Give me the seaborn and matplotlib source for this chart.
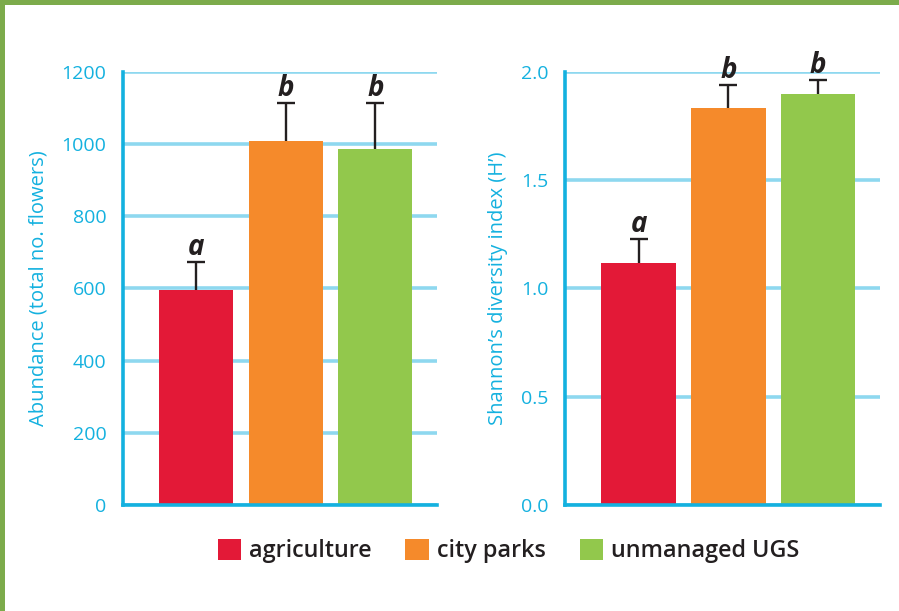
import matplotlib
matplotlib.use("Agg")
import matplotlib.pyplot as plt
from matplotlib.patches import Rectangle, Patch
import seaborn as sns
import pandas as pd

# Land-use categories and their bar colours
categories = ["agriculture", "city parks", "unmanaged UGS"]
colors = ["#e31937", "#f58a2b", "#92c84c"]

# Flower abundance (mean and upper error)
abundance = [596, 1008, 986]
abundance_err = [77, 105, 127]
abundance_letters = ["a", "b", "b"]

# Shannon diversity (mean and upper error)
shannon = [1.12, 1.834, 1.898]
shannon_err = [0.11, 0.106, 0.065]
shannon_letters = ["a", "b", "b"]

abund_ticks = [0, 200, 400, 600, 800, 1000, 1200]
shannon_ticks = [0.0, 0.5, 1.0, 1.5, 2.0]
shannon_ticklabels = ["0.0", "0.5", "1.0", "1.5", "2.0"]

AXIS_CYAN = "#14b1df"
GRID_CYAN = "#8ed8ef"
TEXT_DARK = "#231f20"
FRAME_GREEN = "#7cab4b"

sns.set_theme(style="white")
plt.rcParams["font.family"] = ["Open Sans", "DejaVu Sans"]

fig = plt.figure(figsize=(8.99, 6.11), dpi=100)
fig.patch.set_facecolor("white")

ax1 = fig.add_axes([0.1368, 0.1735, 0.3493, 0.7087])
ax2 = fig.add_axes([0.6285, 0.1735, 0.3504, 0.7087])


def panel(ax, values, errs, letters, ymax, ticks, ticklabels, ylabel, letter_pad):
    df = pd.DataFrame({"category": categories, "value": values})
    sns.barplot(data=df, x="category", y="value", hue="category",
                palette=colors, order=categories, hue_order=categories,
                width=0.83, errorbar=None, legend=False, ax=ax,
                saturation=1, linewidth=0, zorder=3)
    xs = list(range(len(values)))
    # upward-only error bars: hide the cap at the bar top
    _, caps, _ = ax.errorbar(xs, values, yerr=[[0] * len(values), errs],
                             fmt="none", ecolor=TEXT_DARK, elinewidth=1.7,
                             capsize=6.5, capthick=1.7, zorder=4)
    caps[0].set_visible(False)
    for x, v, e, lab in zip(xs, values, errs, letters):
        ax.text(x, v + e + letter_pad, lab, ha="center", va="bottom",
                fontsize=20, fontweight="bold", fontstyle="italic",
                color=TEXT_DARK, zorder=5)
    ax.set_xlim(-0.82, 2.69)
    ax.set_ylim(0, ymax)
    ax.set_yticks(ticks)
    ax.set_yticklabels(ticklabels)
    ax.yaxis.grid(True, color=GRID_CYAN, linewidth=2.6, zorder=0)
    ax.xaxis.grid(False)
    ax.set_axisbelow(True)
    ax.set_xticks([])
    ax.set_xlabel("")
    ax.set_ylabel(ylabel, color=AXIS_CYAN, fontsize=14.5, labelpad=9)
    ax.tick_params(axis="y", length=0, pad=12, labelsize=14,
                   labelcolor=AXIS_CYAN)
    for side in ("top", "right"):
        ax.spines[side].set_visible(False)
    for side in ("left", "bottom"):
        ax.spines[side].set_color(AXIS_CYAN)
        ax.spines[side].set_linewidth(2.6)
        ax.spines[side].set_zorder(6)
    ax.set_facecolor("white")


panel(ax1, abundance, abundance_err, abundance_letters, 1200,
      abund_ticks, [str(t) for t in abund_ticks],
      "Abundance (total no. flowers)", 1)
panel(ax2, shannon, shannon_err, shannon_letters, 2.0,
      shannon_ticks, shannon_ticklabels,
      "Shannon\u2019s diversity index (H\u2019)", 0.0)

handles = [Patch(facecolor=c, edgecolor="none", label=l)
           for c, l in zip(colors, categories)]
leg = fig.legend(handles=handles, loc="center", ncol=3,
                 bbox_to_anchor=(0.5656, 0.098), frameon=False,
                 handlelength=1.0, handleheight=1.0, handletextpad=0.35,
                 columnspacing=1.45, borderaxespad=0,
                 prop={"size": 16.8, "weight": "semibold"})
for t in leg.get_texts():
    t.set_color(TEXT_DARK)

# Green frame along the top and left edges
fig.add_artist(Rectangle((0, 1 - 5 / 611), 1, 5 / 611, transform=fig.transFigure,
                         facecolor=FRAME_GREEN, edgecolor="none", zorder=10))
fig.add_artist(Rectangle((0, 0), 5 / 899, 1, transform=fig.transFigure,
                         facecolor=FRAME_GREEN, edgecolor="none", zorder=10))

fig.savefig("out.png", dpi=100, facecolor="white")
